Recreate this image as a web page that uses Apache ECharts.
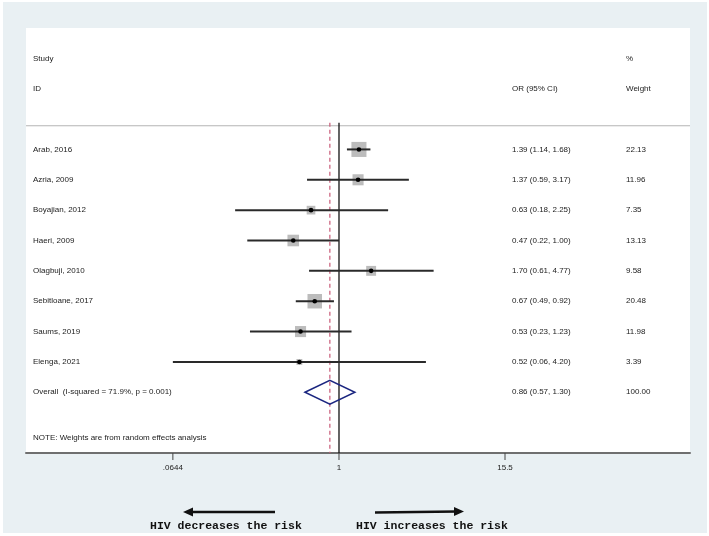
<!DOCTYPE html>
<html>
<head>
<meta charset="utf-8">
<script src="https://cdn.jsdelivr.net/npm/echarts@6/dist/echarts.min.js"></script>
<style>html,body{margin:0;padding:0;background:#fff}#c{width:709px;height:536px}</style>
</head>
<body>
<div id="c"></div>
<script>
// ---- data ----
const studies = ["Arab, 2016","Azria, 2009","Boyajian, 2012","Haeri, 2009","Olagbuji, 2010","Sebitloane, 2017","Saums, 2019","Elenga, 2021"];
const orValues = [1.39, 1.37, 0.63, 0.47, 1.70, 0.67, 0.53, 0.52];
const lowerCI  = [1.14, 0.59, 0.18, 0.22, 0.61, 0.49, 0.23, 0.0644];
const upperCI  = [1.68, 3.17, 2.25, 1.00, 4.77, 0.92, 1.23, 4.20];
const weights  = [22.13, 11.96, 7.35, 13.13, 9.58, 20.48, 11.98, 3.39];
const overallLabel = "Overall  (I-squared = 71.9%, p = 0.001)";
const overall = {or: 0.86, lo: 0.57, hi: 1.30, weight: 100.00};
const xTickValues = [0.0644, 1, 15.5];
const xTickLabels = [".0644", "1", "15.5"];
const noteText = "NOTE: Weights are from random effects analysis";

const TXT = '#222';
const FONT = 'Liberation Sans, Arial, sans-serif';
const chart = echarts.init(document.getElementById('c'), null, {renderer: 'canvas'});

const rowData = studies.map((s, i) => [i, orValues[i], lowerCI[i], upperCI[i], weights[i]]);

function fmtRow(o, l, h) { return o.toFixed(2) + ' (' + l.toFixed(2) + ', ' + h.toFixed(2) + ')'; }

function textEl(t, x, y, align) {
  return {type: 'text', style: {text: t, x: x, y: y, fill: TXT, fontSize: 8, fontFamily: FONT, align: align || 'left', verticalAlign: 'middle'}};
}

const option = {
  animation: false,
  backgroundColor: '#ffffff',
  grid: {left: 26, right: 19, top: 28, bottom: 83, show: true, backgroundColor: '#ffffff', borderWidth: 0},
  xAxis: {
    type: 'log', logBase: Math.E, min: 0.0057, max: 328.6,
    axisLine: {show: true, onZero: false, lineStyle: {color: '#6f6f6f', width: 2}},
    axisTick: {show: false}, axisLabel: {show: false}, splitLine: {show: false}
  },
  yAxis: {type: 'value', min: -4, max: 10, inverse: true, show: false},
  graphic: [
    {type: 'rect', z: -10, shape: {x: 3, y: 2, width: 704, height: 531}, style: {fill: '#e9f0f3'}},
    {type: 'text', style: {text: 'HIV decreases the risk', x: 150, y: 526, fill: '#111', font: 'bold 11.5px "Liberation Mono", "DejaVu Sans Mono", monospace', verticalAlign: 'middle'}},
    {type: 'text', style: {text: 'HIV increases the risk', x: 356, y: 526, fill: '#111', font: 'bold 11.5px "Liberation Mono", "DejaVu Sans Mono", monospace', verticalAlign: 'middle'}},
    {type: 'line', shape: {x1: 275, y1: 512, x2: 190, y2: 512}, style: {stroke: '#111', lineWidth: 2.5}},
    {type: 'polygon', shape: {points: [[183, 512], [193, 507.5], [193, 516.5]]}, style: {fill: '#111'}},
    {type: 'line', shape: {x1: 375, y1: 512.5, x2: 457, y2: 511.5}, style: {stroke: '#111', lineWidth: 2.5}},
    {type: 'polygon', shape: {points: [[464, 511.5], [454, 507], [454, 516]]}, style: {fill: '#111'}}
  ],
  series: [
    // reference lines, header, ticks and table headers
    {
      type: 'custom', silent: true, clip: false,
      data: [[0]],
      encode: {x: 0, y: 0},
      renderItem: function (params, api) {
        const cs = params.coordSys;
        const left = cs.x, right = cs.x + cs.width, bottom = cs.y + cs.height;
        const yHead = api.coord([1, -0.78])[1];
        const x1 = api.coord([1, 0])[0];
        const xo = api.coord([overall.or, 0])[0];
        const ch = [];
        ch.push({type: 'line', shape: {x1: left, y1: yHead, x2: right, y2: yHead}, style: {stroke: '#b4b4b4', lineWidth: 1}});
        ch.push({type: 'line', shape: {x1: x1, y1: yHead - 3, x2: x1, y2: bottom}, style: {stroke: '#111', lineWidth: 1.3}});
        ch.push({type: 'line', shape: {x1: xo, y1: yHead - 3, x2: xo, y2: bottom}, style: {stroke: '#c85a78', lineWidth: 1.2, lineDash: [4, 3]}});
        const ys = api.coord([1, -3])[1], yi = api.coord([1, -2])[1], yn = api.coord([1, 9.5])[1];
        ch.push(textEl('Study', left + 7, ys));
        ch.push(textEl('ID', left + 7, yi));
        ch.push(textEl('OR (95% CI)', 512, yi));
        ch.push(textEl('%', 626, ys));
        ch.push(textEl('Weight', 626, yi));
        ch.push(textEl(noteText, left + 7, yn));
        xTickValues.forEach(function (v, k) {
          const tx = api.coord([v, 0])[0];
          ch.push({type: 'line', shape: {x1: tx, y1: bottom, x2: tx, y2: bottom + 7}, style: {stroke: '#444', lineWidth: 1}});
          ch.push(textEl(xTickLabels[k], tx, bottom + 15, 'center'));
        });
        return {type: 'group', children: ch};
      },
      z: 1
    },
    // studies
    {
      type: 'custom', silent: true, clip: false,
      data: rowData,
      encode: {x: [1, 2, 3], y: 0},
      renderItem: function (params, api) {
        const cs = params.coordSys;
        const i = api.value(0), o = api.value(1), l = api.value(2), h = api.value(3), w = api.value(4);
        const pc = api.coord([o, i]), pl = api.coord([l, i]), ph = api.coord([h, i]);
        const side = 3.2 * Math.sqrt(w);
        return {type: 'group', children: [
          {type: 'rect', shape: {x: pc[0] - side / 2, y: pc[1] - side / 2, width: side, height: side}, style: {fill: '#bcbcbc'}},
          {type: 'line', shape: {x1: pl[0], y1: pl[1], x2: ph[0], y2: ph[1]}, style: {stroke: '#2a2a2a', lineWidth: 2}},
          {type: 'circle', shape: {cx: pc[0], cy: pc[1], r: 2.3}, style: {fill: '#000'}},
          textEl(studies[i], cs.x + 7, pc[1]),
          textEl(fmtRow(o, l, h), 512, pc[1]),
          textEl(w.toFixed(2), 626, pc[1])
        ]};
      },
      z: 3
    },
    // overall diamond
    {
      type: 'custom', silent: true, clip: false,
      data: [[8, overall.or, overall.lo, overall.hi, overall.weight]],
      encode: {x: [1, 2, 3], y: 0},
      renderItem: function (params, api) {
        const cs = params.coordSys;
        const i = api.value(0);
        const pc = api.coord([api.value(1), i]), pl = api.coord([api.value(2), i]), ph = api.coord([api.value(3), i]);
        const hh = 12;
        return {type: 'group', children: [
          {type: 'polygon', shape: {points: [[pl[0], pc[1]], [pc[0], pc[1] - hh], [ph[0], pc[1]], [pc[0], pc[1] + hh]]}, style: {fill: 'none', stroke: '#1b2680', lineWidth: 1.5}},
          textEl(overallLabel, cs.x + 7, pc[1]),
          textEl(fmtRow(api.value(1), api.value(2), api.value(3)), 512, pc[1]),
          textEl(api.value(4).toFixed(2), 626, pc[1])
        ]};
      },
      z: 3
    }
  ]
};
chart.setOption(option);
</script>
</body>
</html>
